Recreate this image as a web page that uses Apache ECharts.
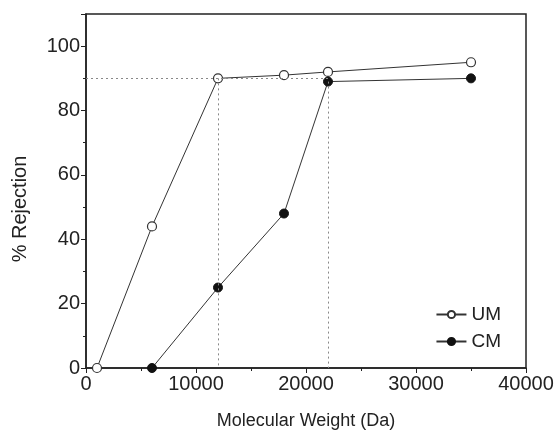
<!DOCTYPE html>
<html>
<head>
<meta charset="utf-8">
<script src="https://cdn.jsdelivr.net/npm/echarts@6/dist/echarts.min.js"></script>
<style>
  html, body { margin: 0; padding: 0; background: #fff; }
  #chart { width: 558px; height: 435px; }
</style>
</head>
<body>
<div id="chart"></div>
<script>
var umData = [[1000, 0], [6000, 44], [12000, 90], [18000, 91], [22000, 92], [35000, 95]];
var cmData = [[6000, 0], [12000, 25], [18000, 48], [22000, 89], [35000, 90]];
// dotted guide lines: [start, end]
var guideLines = [
    [[0, 90], [22000, 90]],
    [[12000, 90], [12000, 0]],
    [[22000, 89], [22000, 0]]
];

var chart = echarts.init(document.getElementById('chart'));
var font = 'Liberation Sans, Arial, sans-serif';

var option = {
    animation: false,
    grid: {
        left: 86, right: 32, top: 14, bottom: 65,
        show: true, borderColor: '#222', borderWidth: 1.5
    },
    legend: {
        orient: 'vertical',
        right: 52,
        top: 300,
        itemWidth: 30,
        itemHeight: 9,
        itemGap: 8,
        textStyle: { fontFamily: font, fontSize: 19, color: '#222' },
        data: ['UM', 'CM']
    },
    xAxis: {
        type: 'value',
        min: 0, max: 40000, interval: 10000,
        name: 'Molecular Weight (Da)',
        nameLocation: 'middle',
        nameGap: 44,
        nameTextStyle: { fontFamily: font, fontSize: 18, color: '#222' },
        axisLine: { onZero: false, lineStyle: { color: '#222', width: 1.5 } },
        axisTick: { inside: false, length: 5, lineStyle: { color: '#222' } },
        minorTick: { show: true, splitNumber: 2, length: 3, lineStyle: { color: '#222' } },
        splitLine: { show: false },
        axisLabel: {
            fontFamily: font, fontSize: 20, color: '#222', margin: 6,
            formatter: function (v) { return String(v); }
        }
    },
    yAxis: {
        type: 'value',
        min: 0, max: 110, interval: 20,
        name: '% Rejection',
        nameLocation: 'middle',
        nameGap: 56,
        nameTextStyle: { fontFamily: font, fontSize: 20, color: '#222', padding: [0, 36, 0, 0] },
        axisLine: { onZero: false, lineStyle: { color: '#222', width: 1.5 } },
        axisTick: { inside: false, length: 5, lineStyle: { color: '#222' } },
        minorTick: { show: true, splitNumber: 2, length: 3, lineStyle: { color: '#222' } },
        splitLine: { show: false },
        axisLabel: {
            fontFamily: font, fontSize: 20, color: '#222', margin: 6,
            formatter: function (v) { return v > 100 ? '' : v; }
        }
    },
    series: [
        {
            name: 'UM',
            type: 'line',
            data: umData,
            symbol: 'circle',
            symbolSize: 9,
            showAllSymbol: true,
            lineStyle: { color: '#333', width: 1 },
            itemStyle: { color: '#fff', borderColor: '#333', borderWidth: 1.2 },
            markLine: {
                silent: true,
                symbol: 'none',
                label: { show: false },
                lineStyle: { color: '#888', type: [2, 3], width: 1 },
                data: guideLines.map(function (g) {
                    return [{ coord: g[0] }, { coord: g[1] }];
                })
            },
            z: 3
        },
        {
            name: 'CM',
            type: 'line',
            data: cmData,
            symbol: 'circle',
            symbolSize: 9,
            showAllSymbol: true,
            lineStyle: { color: '#333', width: 1 },
            itemStyle: { color: '#111', borderColor: '#111', borderWidth: 1 },
            z: 4
        }
    ]
};

chart.setOption(option);
</script>
</body>
</html>
